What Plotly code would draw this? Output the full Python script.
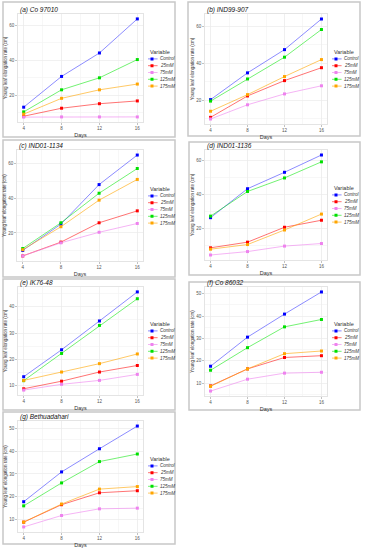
import plotly.graph_objects as go

W, H = 367, 550

# ---------------- data ----------------
DAYS = [4, 8, 12, 16]
X_TICKS = [4, 8, 12, 16]
VARIABLES = ["Control", "25mM", "75mM", "125mM", "175mM"]
TITLES = ["(a) Co 97010", "(b) IND99-907", "(c) IND01-1134", "(d) IND01-1136",
          "(e) IK76-48", "(f) Co 86032", "(g) Bethuadahari"]

# each list: Control, 25mM, 75mM, 125mM, 175mM  (values at DAYS)
CO_97010 = [[13.0, 30.7, 44.2, 63.8], [7.8, 12.4, 15.0, 16.6], [7.3, 7.4, 7.4, 7.4],
            [10.3, 23.0, 29.9, 40.4], [9.0, 18.1, 23.0, 26.3]]
IND99_907 = [[20.2, 34.7, 47.3, 63.9], [10.6, 22.2, 30.5, 37.5], [9.7, 17.4, 23.3, 27.7],
             [19.4, 31.4, 43.2, 58.2], [13.9, 22.9, 32.7, 41.9]]
IND01_1134 = [[9.9, 25.1, 48.0, 65.1], [6.7, 14.7, 25.9, 32.8], [6.7, 14.3, 20.4, 25.5],
              [11.0, 25.9, 43.0, 57.3], [10.3, 23.6, 39.0, 51.0]]
IND01_1136 = [[26.4, 43.3, 52.9, 63.0], [8.8, 12.1, 20.8, 24.9], [4.6, 6.6, 9.8, 11.3],
              [27.3, 41.7, 49.6, 59.0], [8.0, 10.7, 19.2, 28.5]]
IK76_48 = [[13.3, 23.6, 34.6, 45.7], [8.7, 11.6, 15.1, 17.6], [8.2, 10.4, 11.9, 14.2],
           [11.8, 22.2, 32.9, 43.1], [11.9, 15.1, 18.3, 22.0]]
CO_86032 = [[17.6, 30.6, 40.9, 50.8], [8.8, 16.4, 21.5, 22.3], [6.5, 11.8, 14.5, 14.9],
            [15.8, 25.9, 35.2, 38.5], [8.6, 16.4, 23.2, 24.4]]
BETHUADAHARI = [[17.9, 30.9, 41.0, 50.9], [9.0, 16.6, 21.8, 22.7], [6.9, 11.9, 14.8, 15.1],
                [16.1, 26.1, 35.4, 38.7], [9.0, 16.9, 23.4, 24.5]]
PANELS = [CO_97010, IND99_907, IND01_1134, IND01_1136, IK76_48, CO_86032, BETHUADAHARI]
Y_TICK_STEP = [20, 20, 20, 20, 10, 10, 10]

# ---------------- style / layout ----------------
COLORS = ["#0000FF", "#FF0000", "#EE82EE", "#00E000", "#FFA500"]
LINE_COLORS = ["rgba(0,0,255,0.45)", "rgba(255,0,0,0.55)", "rgba(238,130,238,0.6)",
               "rgba(0,230,0,0.55)", "rgba(255,165,0,0.6)"]
FONT = "Liberation Sans, Arial, sans-serif"

BOXES = [(3, 2, 175, 137), (188, 2, 360, 136), (3, 140, 175, 277), (189, 142, 360, 275),
         (3, 279, 175, 410), (189, 282, 360, 410), (3, 412, 175, 544)]
PLOTS = [(18, 14, 143, 122), (205, 14, 327, 124), (17, 150, 143, 261), (205, 150, 327, 260),
         (18, 287, 143, 395), (205, 287, 327, 396), (18, 421, 143, 532)]
LEG_TITLE_Y = [52, 52, 189, 188, 324, 324, 459]


def fx(p):
    return p / W


def fy(p):
    return 1 - p / H


fig = go.Figure()
layout = dict(width=W, height=H, margin=dict(l=0, r=0, t=0, b=0),
              paper_bgcolor="white", plot_bgcolor="white", showlegend=False,
              font=dict(family=FONT, color="#333"))
shapes, annotations = [], []

n = len(PANELS)
for i, series in enumerate(PANELS):
    k = i + 1
    kl = i + 1 + n
    xs = "x" if k == 1 else f"x{k}"
    ys = "y" if k == 1 else f"y{k}"
    xl, yl = f"x{kl}", f"y{kl}"
    px0, py0, px1, py1 = PLOTS[i]
    bx0, by0, bx1, by1 = BOXES[i]

    for j, var in enumerate(VARIABLES):
        fig.add_trace(go.Scatter(
            x=DAYS, y=series[j], mode="lines+markers", name=var,
            xaxis=xs, yaxis=ys,
            line=dict(color=LINE_COLORS[j], width=1),
            marker=dict(color=COLORS[j], size=3, symbol="square")))

    allv = [v for s in series for v in s]
    lo, hi = min(allv), max(allv)
    pad = 0.05 * (hi - lo)
    xpad = 0.05 * (max(DAYS) - min(DAYS))
    step = Y_TICK_STEP[i]

    axis_common = dict(showgrid=True, gridcolor="#EBEBEB", gridwidth=0.7,
                       showline=True, mirror=True, linecolor="#DDDDDD", linewidth=0.8,
                       zeroline=False, ticks="outside", ticklen=2, tickcolor="#999",
                       tickwidth=0.6,
                       tickfont=dict(size=4.5, color="#555", family=FONT))
    layout["xaxis" if k == 1 else f"xaxis{k}"] = dict(
        axis_common, domain=[fx(px0), fx(px1)], anchor=ys,
        range=[min(DAYS) - xpad, max(DAYS) + xpad], tickvals=X_TICKS,
        minor=dict(showgrid=True, gridcolor="#F4F4F4", dtick=2, tick0=4),
        title=dict(text="Days", font=dict(size=5.5, color="#333"), standoff=2))
    layout["yaxis" if k == 1 else f"yaxis{k}"] = dict(
        axis_common, domain=[fy(py1), fy(py0)], anchor=xs,
        range=[lo - pad, hi + pad], tick0=0, dtick=step,
        minor=dict(showgrid=True, gridcolor="#F4F4F4", dtick=step / 2, tick0=0),
        title=dict(text="Young leaf elongation rate (cm)", font=dict(size=4.5, color="#333"),
                   standoff=1))

    # custom legend block
    ty = LEG_TITLE_Y[i]
    lx0 = px1 + 5
    layout[f"xaxis{kl}"] = dict(domain=[fx(lx0), fx(lx0 + 27)], range=[0, 27],
                                visible=False, anchor=yl, fixedrange=True)
    layout[f"yaxis{kl}"] = dict(domain=[fy(ty + 3.5 + 34), fy(ty + 3.5)], type="category",
                                categoryarray=VARIABLES, range=[4.5, -0.5],
                                visible=False, anchor=xl, fixedrange=True)
    fig.add_trace(go.Scatter(
        x=[4] * len(VARIABLES), y=VARIABLES, xaxis=xl, yaxis=yl, mode="markers",
        marker=dict(symbol="line-ew", size=8,
                    line=dict(color=LINE_COLORS, width=1)), hoverinfo="skip"))
    fig.add_trace(go.Scatter(
        x=[4] * len(VARIABLES), y=VARIABLES, xaxis=xl, yaxis=yl, mode="markers",
        marker=dict(symbol="square", size=3, color=COLORS), hoverinfo="skip"))
    for var in VARIABLES:
        annotations.append(dict(x=9.5, y=var, xref=xl, yref=yl, text=f"<i>{var}</i>",
                                showarrow=False, xanchor="left", yanchor="middle",
                                font=dict(size=4.5, color="#333")))
    annotations.append(dict(x=fx(lx0), y=fy(ty), xref="paper", yref="paper",
                            text="Variable", showarrow=False, xanchor="left",
                            yanchor="middle", font=dict(size=5.5, color="#333")))

    # panel title
    annotations.append(dict(x=fx(px0), y=fy(py0 - 4), xref="paper", yref="paper",
                            text=f"<i>{TITLES[i]}</i>", showarrow=False, xanchor="left",
                            yanchor="middle", font=dict(size=6.5, color="#111")))
    # panel frame
    shapes.append(dict(type="rect", xref="paper", yref="paper",
                       x0=fx(bx0), x1=fx(bx1), y0=fy(by1), y1=fy(by0),
                       line=dict(color="#C8C8C8", width=1.5), layer="below"))

layout["shapes"] = shapes
layout["annotations"] = annotations
fig.update_layout(**layout)
fig.write_html("out.html", config={"displayModeBar": False, "staticPlot": True},
               post_script="document.body.style.margin='0';document.body.style.padding='0';")
